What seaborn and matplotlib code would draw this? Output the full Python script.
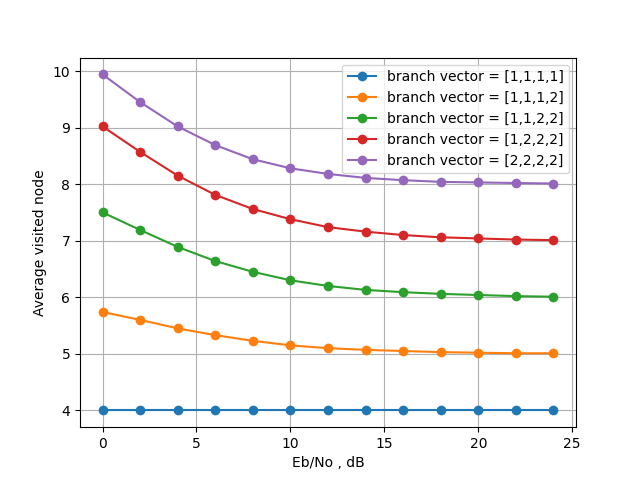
import matplotlib
matplotlib.use('Agg')
import matplotlib.pyplot as plt
import numpy as np
import pandas as pd
import seaborn as sns

ebno = [0, 2, 4, 6, 8, 10, 12, 14, 16, 18, 20, 22, 24]

labels = [
    'branch vector = [1,1,1,1]',
    'branch vector = [1,1,1,2]',
    'branch vector = [1,1,2,2]',
    'branch vector = [1,2,2,2]',
    'branch vector = [2,2,2,2]',
]

visited_1111 = [4.0, 4.0, 4.0, 4.0, 4.0, 4.0, 4.0, 4.0, 4.0, 4.0, 4.0, 4.0, 4.0]
visited_1112 = [5.74, 5.60, 5.45, 5.33, 5.23, 5.15, 5.10, 5.07, 5.05, 5.03, 5.02, 5.01, 5.01]
visited_1122 = [7.50, 7.19, 6.89, 6.64, 6.45, 6.30, 6.20, 6.13, 6.09, 6.06, 6.04, 6.02, 6.01]
visited_1222 = [9.02, 8.57, 8.15, 7.81, 7.56, 7.38, 7.24, 7.16, 7.10, 7.06, 7.04, 7.02, 7.01]
visited_2222 = [9.94, 9.45, 9.02, 8.69, 8.44, 8.28, 8.18, 8.11, 8.07, 8.04, 8.03, 8.02, 8.01]

series = [visited_1111, visited_1112, visited_1122, visited_1222, visited_2222]

df = pd.DataFrame({
    'ebno': ebno * len(series),
    'visited': np.concatenate(series),
    'label': np.repeat(labels, len(ebno)),
})

fig, ax = plt.subplots(figsize=(6.4, 4.8), dpi=100)
sns.lineplot(data=df, x='ebno', y='visited', hue='label', ax=ax,
             marker='o', markersize=7, markeredgewidth=0, palette='tab10')
ax.grid(True)
ax.set_xlabel('Eb/No , dB')
ax.set_ylabel('Average visited node')
ax.legend(loc='upper right')
plt.savefig('out.png')
